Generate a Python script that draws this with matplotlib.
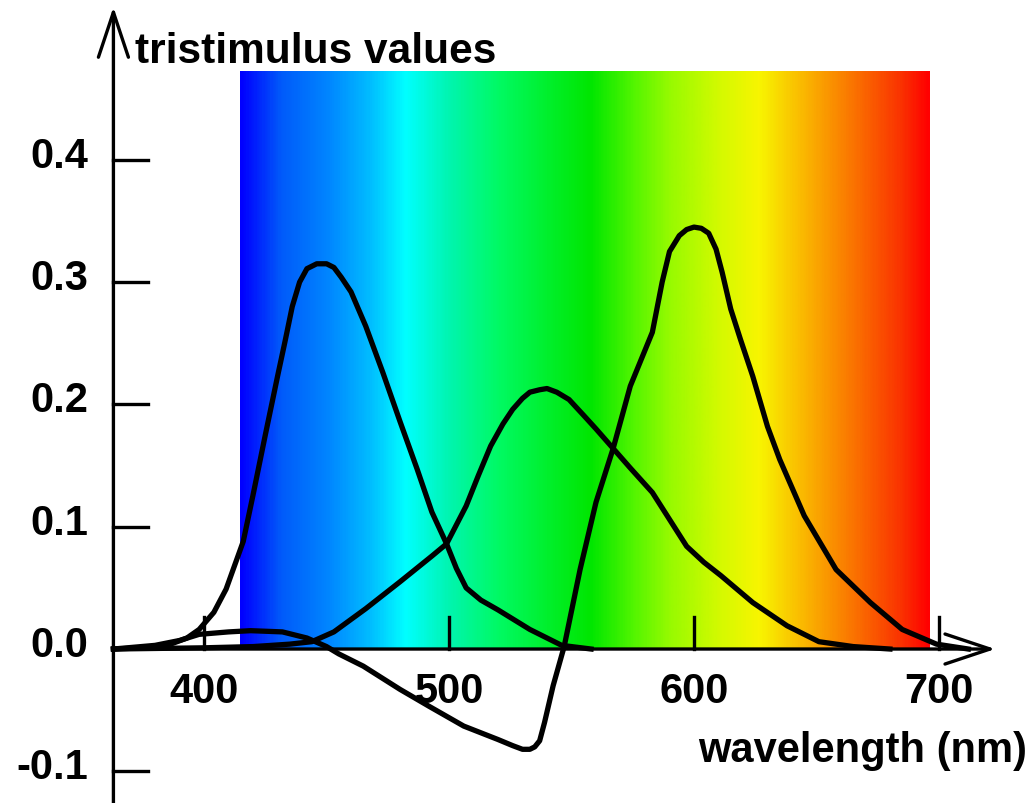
import numpy as np
import matplotlib
matplotlib.use("Agg")
import matplotlib.pyplot as plt
from matplotlib.colors import LinearSegmentedColormap

plt.rcParams['font.family'] = ['Liberation Sans', 'DejaVu Sans']

# colour matching functions (wavelength nm, value)
b_wl = [363, 375, 385, 393, 398, 404, 409, 416, 420, 425, 430, 433, 436, 439, 442, 446,
        450, 453, 456, 460, 466, 473, 480, 487, 493, 499, 503, 507, 513, 520, 533, 546, 558]
b_val = [0.0, 0.001, 0.003, 0.009, 0.016, 0.030, 0.049, 0.088, 0.126, 0.175, 0.223, 0.251,
         0.280, 0.300, 0.311, 0.315, 0.315, 0.312, 0.304, 0.292, 0.264, 0.226, 0.186, 0.147,
         0.112, 0.086, 0.066, 0.050, 0.040, 0.032, 0.016, 0.003, 0.0]

g_wl = [363, 400, 420, 435, 444, 453, 466, 480, 493, 499, 507, 512, 517, 522, 526, 530,
        533, 537, 540, 544, 549, 555, 560, 567, 574, 583, 590, 597, 604, 611, 624, 638,
        651, 665, 680]
g_val = [0.0, 0.001, 0.002, 0.004, 0.006, 0.014, 0.033, 0.055, 0.076, 0.086, 0.117, 0.142,
         0.166, 0.184, 0.196, 0.205, 0.210, 0.212, 0.213, 0.210, 0.204, 0.191, 0.180, 0.164,
         0.148, 0.128, 0.106, 0.084, 0.071, 0.060, 0.038, 0.019, 0.006, 0.002, 0.0]

r_wl = [363, 380, 390, 398, 410, 419, 432, 442, 450, 455, 465, 480, 492, 506, 520, 526,
        530, 533, 535, 537, 539, 542.5, 547, 553.5, 560, 567, 574, 583, 587, 590, 594,
        597, 600, 603, 606, 609, 611.5, 615, 619, 624, 630, 635, 645, 658, 672, 685, 699, 712]
r_val = [0.0, 0.003, 0.007, 0.012, 0.014, 0.015, 0.014, 0.009, 0.002, -0.004, -0.014,
         -0.033, -0.047, -0.063, -0.074, -0.079, -0.082, -0.082, -0.080, -0.075, -0.060,
         -0.030, 0.002, 0.065, 0.120, 0.164, 0.215, 0.259, 0.300, 0.325, 0.338, 0.343, 0.345,
         0.344, 0.340, 0.327, 0.308, 0.278, 0.253, 0.223, 0.182, 0.155, 0.109, 0.065, 0.038,
         0.016, 0.004, 0.0]

# spectrum band colours
spec_wl = [415, 431, 451, 468, 482, 500, 520, 540, 558, 575, 590, 610, 627, 640, 655, 670, 685, 696]
spec_rgb = [(0, 0, 255), (0, 90, 250), (0, 135, 255), (0, 190, 255), (0, 255, 255),
            (0, 245, 175), (0, 250, 100), (0, 240, 45), (0, 230, 0), (80, 245, 0),
            (150, 250, 0), (210, 250, 0), (248, 245, 0), (250, 200, 0), (250, 150, 0),
            (250, 100, 0), (250, 50, 0), (255, 0, 0)]

xticks = [400, 500, 600, 700]
yticks = [-0.1, 0.0, 0.1, 0.2, 0.3, 0.4]

fig = plt.figure(figsize=(10.34, 8.04), dpi=100)
ax = fig.add_axes([0, 0, 1, 1])
ax.set_xlim(316.7, 738.8)
ax.set_ylim(-0.1259, 0.5315)
ax.axis('off')

# spectrum background
lo, hi = spec_wl[0], spec_wl[-1]
stops = [((w - lo) / (hi - lo), tuple(c / 255 for c in rgb)) for w, rgb in zip(spec_wl, spec_rgb)]
cmap = LinearSegmentedColormap.from_list('spec', stops)
grad = np.linspace(0, 1, 600).reshape(1, -1)
ax.imshow(grad, cmap=cmap, aspect='auto', extent=[414.7, 696.3, 0.0, 0.472],
          interpolation='bilinear', zorder=0)

# axes with arrows
x0 = 363
arrow = dict(arrowstyle='->,head_length=0.9,head_width=0.3', lw=2.4,
             color='black', mutation_scale=36, shrinkA=0, shrinkB=0)
ax.annotate('', xy=(x0, 0.525), xytext=(x0, -0.13), arrowprops=arrow, zorder=3)
ax.annotate('', xy=(723, 0.0), xytext=(x0, 0.0), arrowprops=arrow, zorder=3)

for t in xticks:
    ax.plot([t, t], [0, 0.026], color='black', lw=2.4, zorder=3)
    ax.text(t, -0.0433, str(t), ha='center', va='baseline', fontsize=30, fontweight='bold')
for t in yticks:
    if t != 0.0:
        ax.plot([x0, 377], [t, t], color='black', lw=2.4, zorder=3)
    ax.text(352.7, t - 0.0057, '%.1f' % t, ha='right', va='baseline', fontsize=30,
            fontweight='bold')

ax.plot(b_wl, b_val, color='black', lw=3.8, zorder=4, solid_joinstyle='round')
ax.plot(g_wl, g_val, color='black', lw=3.8, zorder=4, solid_joinstyle='round')
ax.plot(r_wl, r_val, color='black', lw=3.8, zorder=4, solid_joinstyle='round')

ax.text(371.8, 0.480, 'tristimulus values', ha='left', va='baseline', fontsize=30.5,
        fontweight='bold')
ax.text(736, -0.0916, 'wavelength (nm)', ha='right', va='baseline', fontsize=30,
        fontweight='bold')

fig.savefig('out.png', dpi=100)
